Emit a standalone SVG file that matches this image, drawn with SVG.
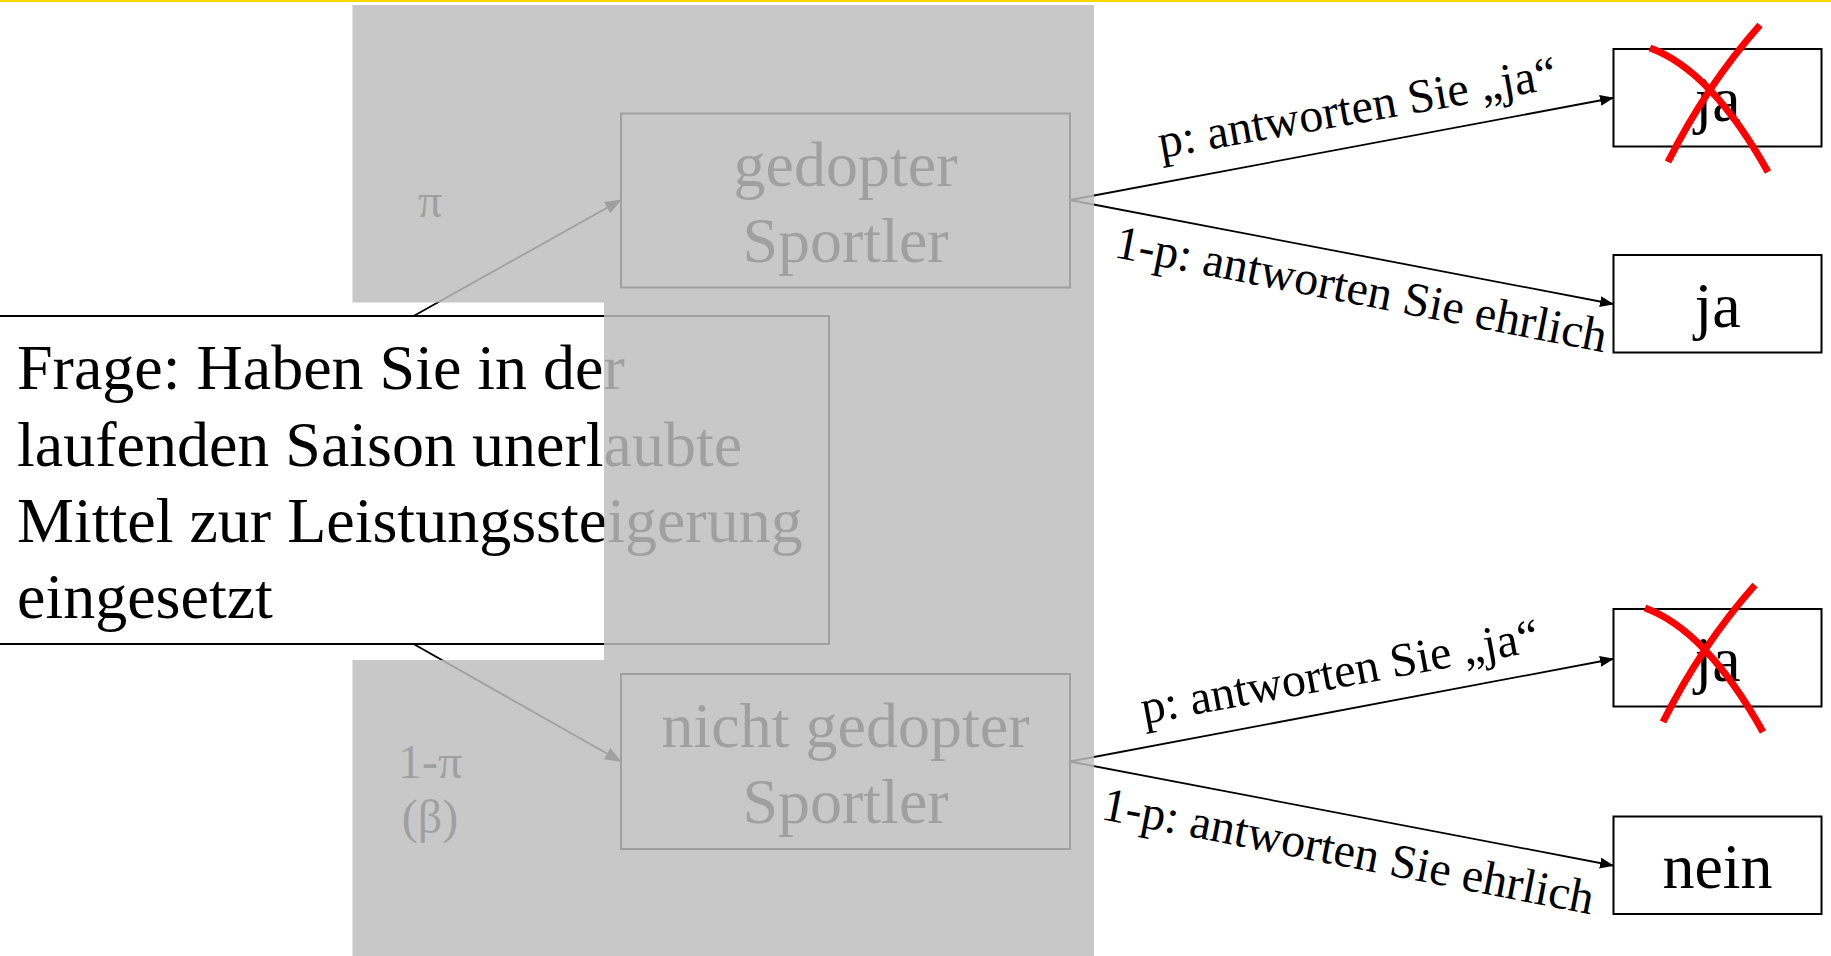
<svg xmlns="http://www.w3.org/2000/svg" width="1831" height="956" viewBox="0 0 1831 956">
<defs>
<style>
text { font-family: "Liberation Serif", "Times New Roman", serif; fill: #000; }
.big { font-size: 64px; }
.mid { text-anchor: middle; }
.lbl { font-size: 48px; }
.pi { font-size: 48px; text-anchor: middle; }
.box { fill: #fff; stroke: #000; stroke-width: 2; }
.conn { stroke: #000; stroke-width: 1.8; fill: none; }
.cross { stroke: #ff0000; stroke-width: 7; fill: none; }
</style>
<marker id="ah" markerUnits="userSpaceOnUse" markerWidth="14" markerHeight="11" refX="13" refY="5.5" orient="auto"><path d="M0,0 L14,5.5 L0,11 Z" fill="#000"/></marker>
<marker id="ahb" markerUnits="userSpaceOnUse" markerWidth="17" markerHeight="13" refX="16" refY="6.5" orient="auto"><path d="M0,0 L17,6.5 L0,13 Z" fill="#000"/></marker>
</defs>
<rect x="0" y="0" width="1831" height="956" fill="#fff"/>
<rect x="0" y="0" width="1831" height="2" fill="#ffd700"/>

<g id="question">
<rect class="box" x="-10" y="316" width="839" height="328"/>
<text class="big" x="17" y="389">Frage: Haben Sie in der</text>
<text class="big" x="17" y="466">laufenden Saison unerlaubte</text>
<text class="big" x="17" y="542">Mittel zur Leistungssteigerung</text>
<text class="big" x="17" y="618">eingesetzt</text>
</g>

<g id="label-pi">
<text class="pi" x="430" y="217">π</text>
</g>
<g id="label-one-minus-pi">
<text class="pi" x="430" y="778">1-π</text>
<text class="pi" x="430" y="833">(β)</text>
</g>

<g id="node-gedopt">
<rect class="box" x="621" y="113.5" width="449" height="174"/>
<text class="big mid" x="845.5" y="186">gedopter</text>
<text class="big mid" x="845.5" y="262">Sportler</text>
</g>

<g id="node-nicht-gedopt">
<rect class="box" x="621" y="674" width="449" height="175"/>
<text class="big mid" x="845.5" y="747">nicht gedopter</text>
<text class="big mid" x="845.5" y="823">Sportler</text>
</g>

<g id="node-ja-1">
<rect class="box" x="1613.5" y="49" width="208" height="97.5"/>
<text class="big mid" x="1717.5" y="121">ja</text>
<path class="cross" d="M1650,48 Q1711,70 1768,172"/>
<path class="cross" d="M1668,162 Q1706,86 1760,25"/>
</g>

<g id="node-ja-2">
<rect class="box" x="1613.5" y="255" width="208" height="97.5"/>
<text class="big mid" x="1717.5" y="327">ja</text>
</g>

<g id="node-ja-3">
<rect class="box" x="1613.5" y="609" width="208" height="97.5"/>
<text class="big mid" x="1717.5" y="681">ja</text>
<path class="cross" d="M1645,608 Q1706,630 1763,732"/>
<path class="cross" d="M1663,722 Q1701,646 1755,585"/>
</g>

<g id="node-nein">
<rect class="box" x="1613.5" y="816.5" width="208" height="97.5"/>
<text class="big mid" x="1717.5" y="888">nein</text>
</g>

<g id="connectors">
<path class="conn" d="M413.6,316 L621,200" marker-end="url(#ahb)"/>
<path class="conn" d="M413.6,644 L621,761.5" marker-end="url(#ahb)"/>
<path class="conn" d="M1070,200 L1613,98" marker-end="url(#ah)"/>
<path class="conn" d="M1070,200 L1613,304" marker-end="url(#ah)"/>
<path class="conn" d="M1070,761.5 L1613,659" marker-end="url(#ah)"/>
<path class="conn" d="M1070,761.5 L1613,865.5" marker-end="url(#ah)"/>
<text class="lbl" transform="translate(1161,158) rotate(-10)">p: antworten Sie „ja“</text>
<text class="lbl" transform="translate(1113,257) rotate(11)">1-p: antworten Sie ehrlich</text>
<text class="lbl" transform="translate(1144,724) rotate(-10.5)">p: antworten Sie „ja“</text>
<text class="lbl" transform="translate(1100,819) rotate(11)">1-p: antworten Sie ehrlich</text>
</g>

<path id="fade-overlay" d="M352.5,5 H1094 V956 H352.5 V660 H604 V302.5 H352.5 Z" fill="rgb(190,190,190)" fill-opacity="0.843"/>
</svg>
